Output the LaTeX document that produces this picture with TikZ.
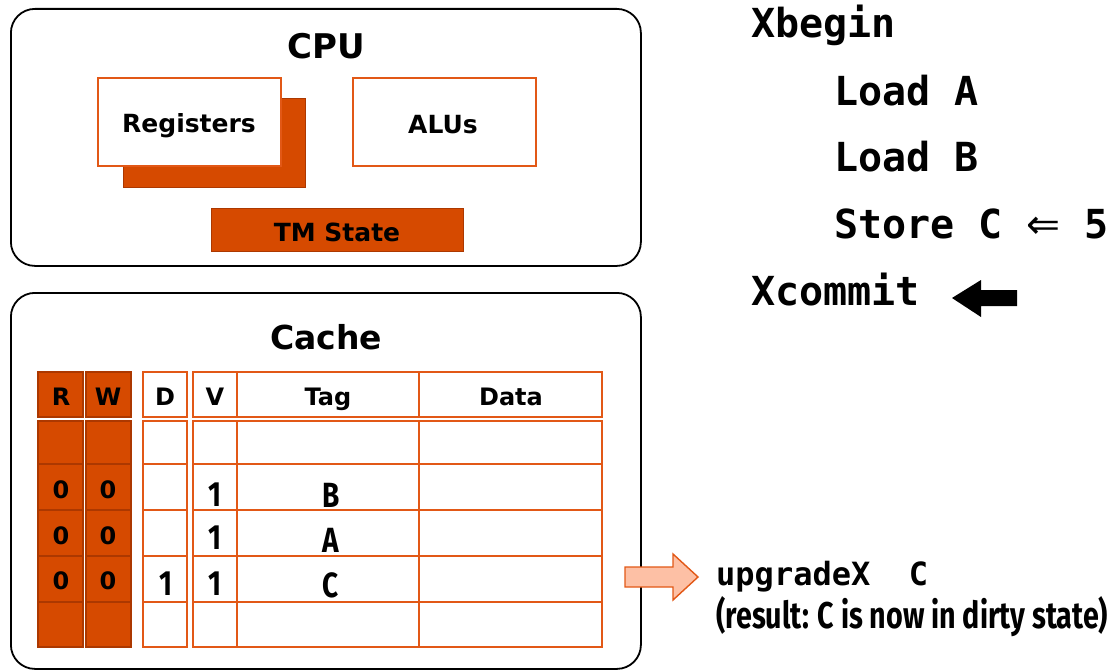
\documentclass[tikz,border=0pt]{standalone}
\usepackage{fontspec}
\usepackage{graphicx}
\newfontfamily\vfont{DejaVu Sans}
\newfontfamily\cfont{Fira Sans}
\newfontfamily\mfont{DejaVu Sans Mono}
\definecolor{org}{RGB}{214,74,0}
\definecolor{orgline}{RGB}{226,88,22}
\definecolor{orgdark}{RGB}{172,56,0}
\definecolor{salmon}{RGB}{253,192,165}
\tikzset{
  outer/.style={draw=black, line width=1.8pt, rounded corners=24pt, anchor=north west, inner sep=0pt},
  wbox/.style={draw=orgline, line width=1.6pt, fill=white, anchor=north west, inner sep=0pt},
  obox/.style={draw=orgdark, line width=1.2pt, fill=org, anchor=north west, inner sep=0pt},
  cell/.style={draw=orgline, line width=1.8pt},
  rwcell/.style={draw=orgdark, line width=1.2pt, fill=org},
  vlab/.style={font=\vfont\bfseries\fontsize{24}{24}\selectfont, inner sep=0pt},
  clab/.style={font=\cfont\bfseries\fontsize{35}{35}\selectfont, inner sep=0pt},
  code/.style={font=\mfont\bfseries\fontsize{40}{40}\selectfont, anchor=base west, inner sep=0pt},
}
\newcommand{\cond}[1]{\scalebox{0.8}[1]{#1}}
\begin{document}
\begin{tikzpicture}[x=1pt,y=-1pt]
\useasboundingbox (0,0) rectangle (1119,671);
% CPU box
\node[outer, minimum width=630pt, minimum height=257pt] (cpu) at (10,8) {};
\node[font=\vfont\bfseries\fontsize{34}{34}\selectfont, inner sep=0pt] (cputxt) at (326,46) {CPU};
\node[obox, minimum width=182pt, minimum height=89pt] (regsh) at (123,98) {};
\node[wbox, minimum width=183pt, minimum height=88pt] (reg) at (97,77) {};
\node[font=\vfont\bfseries\fontsize{25}{25}\selectfont, inner sep=0pt] (regtxt) at (189,126) {Registers};
\node[wbox, minimum width=183pt, minimum height=88pt] (alu) at (352,77) {};
\node[font=\vfont\bfseries\fontsize{25}{25}\selectfont, inner sep=0pt] (alutxt) at (443,125) {ALUs};
\node[obox, minimum width=252pt, minimum height=43pt] (tm) at (211,208) {};
\node[font=\vfont\bfseries\fontsize{25}{25}\selectfont, inner sep=0pt] (tmtxt) at (337,232) {TM State};
% Cache box
\node[outer, minimum width=630pt, minimum height=376pt] (cache) at (10,292) {};
\node[font=\vfont\bfseries\fontsize{33}{33}\selectfont, inner sep=0pt] (cachetxt) at (326,337) {Cache};
% R/W columns
\foreach \x/\w in {38/45,86/45}{
  \draw[rwcell] (\x,372) rectangle ++(\w,45);
  \foreach \ya/\yb in {421/464,464/510,510/556,556/602,602/647}{
    \draw[rwcell] (\x,\ya) rectangle (\x+\w,\yb);
  }
}
% D column
\draw[cell] (143,372) rectangle (187,417);
\foreach \ya/\yb in {421/464,464/510,510/556,556/602,602/647}{
  \draw[cell] (143,\ya) rectangle (187,\yb);
}
% V, Tag, Data
\foreach \xa/\xb in {193/237,237/419,419/602}{
  \draw[cell] (\xa,372) rectangle (\xb,417);
  \foreach \ya/\yb in {421/464,464/510,510/556,556/602,602/647}{
    \draw[cell] (\xa,\ya) rectangle (\xb,\yb);
  }
}
% headers
\node[vlab] (hR) at (61,397) {R};
\node[vlab] (hW) at (108,397) {W};
\node[vlab] (hD) at (165,397) {D};
\node[vlab] (hV) at (215,397) {V};
\node[vlab] (hT) at (328,399) {Tag};
\node[vlab] (hDa) at (511,397) {Data};
% R/W values
\node[vlab] (r1) at (61,490) {0};
\node[vlab] (w1) at (108,490) {0};
\node[vlab] (r2) at (61,536) {0};
\node[vlab] (w2) at (108,536) {0};
\node[vlab] (r3) at (61,581) {0};
\node[vlab] (w3) at (108,581) {0};
% condensed values
\node[clab] (v1) at (215,495) {\cond{1}};
\node[clab] (v2) at (215,538) {\cond{1}};
\node[clab] (v3) at (215,584) {\cond{1}};
\node[clab] (d3) at (166,584) {\cond{1}};
\node[clab] (tB) at (331,495) {\cond{B}};
\node[clab] (tA) at (331,540) {\cond{A}};
\node[clab] (tC) at (331,585) {\cond{C}};
% code
\node[code] (l1) at (751,38) {Xbegin};
\node[code] (l2) at (834,106) {Load A};
\node[code] (l3) at (834,172) {Load B};
\node[code] (l4) at (834,239) {Store C \makebox[34pt]{\resizebox{34pt}{!}{\vfont\mdseries ⇐}} 5};
\node[code] (l5) at (751,305) {Xcommit};
\fill[black] (1017,290) -- (981,290) -- (981,280) -- (952,298) -- (981,317) -- (981,306) -- (1017,306) -- cycle;
% upgrade arrow
\draw[draw=orgline, line width=1.4pt, fill=salmon] (625,567) -- (673,567) -- (673,554) -- (698,577) -- (673,600) -- (673,587) -- (625,587) -- cycle;
\node[font=\mfont\bfseries\fontsize{32}{32}\selectfont, anchor=base west, inner sep=0pt] (up) at (716,585) {upgradeX\ \ C};
\node[anchor=base west, inner sep=0pt] (res) at (716,628) {\resizebox{392pt}{32pt}{\cfont\bfseries (result: C is now in dirty state)}};
\end{tikzpicture}
\end{document}
